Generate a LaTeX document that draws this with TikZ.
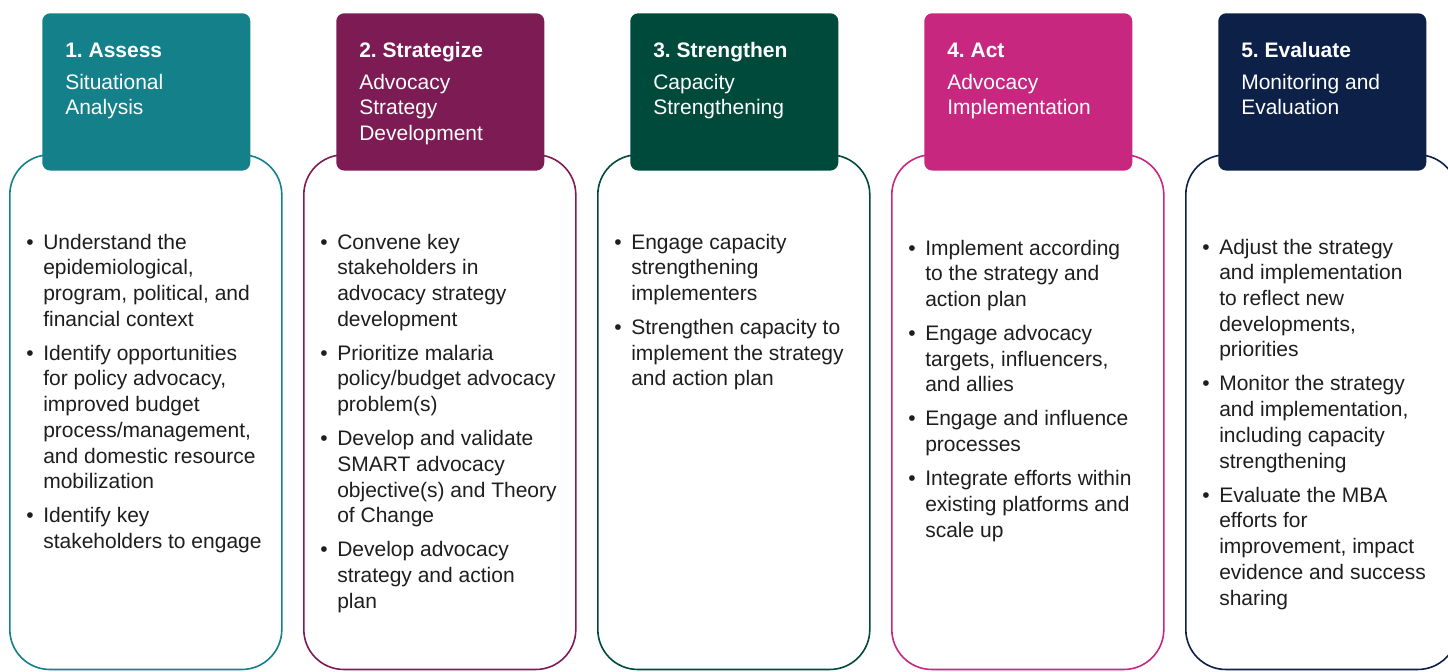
\documentclass[tikz,border=0pt]{standalone}
\usepackage{fontspec}
\setmainfont{Liberation Sans}
\usepackage{tikz}
\frenchspacing

\definecolor{assess}{RGB}{19,128,138}
\definecolor{strategize}{RGB}{125,27,84}
\definecolor{strengthen}{RGB}{0,74,60}
\definecolor{act}{RGB}{199,39,127}
\definecolor{evaluate}{RGB}{12,32,72}
\definecolor{bodytext}{RGB}{30,30,30}

\begin{document}
\begin{tikzpicture}[x=0.75pt,y=0.75pt,yscale=-1,xscale=1,
  panel/.style={draw=#1, line width=1.2pt, fill=white, rounded corners=30pt, minimum width=204pt, minimum height=386pt, anchor=north west, inner sep=0pt},
  header/.style={fill=#1, rounded corners=6pt, minimum width=156pt, minimum height=118pt, anchor=north west, inner sep=0pt},
  headtext/.style={anchor=base west, inner sep=0pt, text=white, font=\fontsize{15.75}{19.3}\selectfont},
  itemtext/.style={anchor=base west, inner sep=0pt, text=bodytext, font=\fontsize{15.75}{19.3}\selectfont}]
\useasboundingbox (0,0) rectangle (1448,671);
\clip (0,0) rectangle (1448,671);

%Shape: Rounded Rect (panels)
\node [panel=assess] (p1) at (9,154) {};
\node [panel=strategize] (p2) at (303,154) {};
\node [panel=strengthen] (p3) at (597,154) {};
\node [panel=act] (p4) at (891,154) {};
\node [panel=evaluate] (p5) at (1185,154) {};

%Shape: Rounded Rect (headers)
\node [header=assess] (h1) at (42,13) {};
\node [header=strategize] (h2) at (336,13) {};
\node [header=strengthen] (h3) at (630,13) {};
\node [header=act] (h4) at (924,13) {};
\node [header=evaluate] (h5) at (1218,13) {};

% Text Node
\node [headtext] (t1) at (65,57) {\begin{tabular}[t]{@{}l@{}}\textbf{1. Assess}\\[4.7pt] Situational\\ Analysis\end{tabular}};
% Text Node
\node [headtext] (t2) at (359,57) {\begin{tabular}[t]{@{}l@{}}\textbf{2. Strategize}\\[4.7pt] Advocacy\\ Strategy\\ Development\end{tabular}};
% Text Node
\node [headtext] (t3) at (653,57) {\begin{tabular}[t]{@{}l@{}}\textbf{3. Strengthen}\\[4.7pt] Capacity\\ Strengthening\end{tabular}};
% Text Node
\node [headtext] (t4) at (947,57) {\begin{tabular}[t]{@{}l@{}}\textbf{4. Act}\\[4.7pt] Advocacy\\ Implementation\end{tabular}};
% Text Node
\node [headtext] (t5) at (1241,57) {\begin{tabular}[t]{@{}l@{}}\textbf{5. Evaluate}\\[4.7pt] Monitoring and\\ Evaluation\end{tabular}};

% Text Node
\node [itemtext] (l1) at (26,249) {\begin{tabular}[t]{@{}p{12.75pt}@{}l@{}}
\textbullet & Understand the\\ & epidemiological,\\ & program, political, and\\ & financial context\\[6.2pt]
\textbullet & Identify opportunities\\ & for policy advocacy,\\ & improved budget\\ & process/management,\\ & and domestic resource\\ & mobilization\\[6.2pt]
\textbullet & Identify key\\ & stakeholders to engage
\end{tabular}};
% Text Node
\node [itemtext] (l2) at (320,249) {\begin{tabular}[t]{@{}p{12.75pt}@{}l@{}}
\textbullet & Convene key\\ & stakeholders in\\ & advocacy strategy\\ & development\\[6.2pt]
\textbullet & Prioritize malaria\\ & policy/budget advocacy\\ & problem(s)\\[6.2pt]
\textbullet & Develop and validate\\ & SMART advocacy\\ & objective(s) and Theory\\ & of Change\\[6.2pt]
\textbullet & Develop advocacy\\ & strategy and action\\ & plan
\end{tabular}};
% Text Node
\node [itemtext] (l3) at (614,249) {\begin{tabular}[t]{@{}p{12.75pt}@{}l@{}}
\textbullet & Engage capacity\\ & strengthening\\ & implementers\\[6.2pt]
\textbullet & Strengthen capacity to\\ & implement the strategy\\ & and action plan
\end{tabular}};
% Text Node
\node [itemtext] (l4) at (908,255) {\begin{tabular}[t]{@{}p{12.75pt}@{}l@{}}
\textbullet & Implement according\\ & to the strategy and\\ & action plan\\[6.2pt]
\textbullet & Engage advocacy\\ & targets, influencers,\\ & and allies\\[6.2pt]
\textbullet & Engage and influence\\ & processes\\[6.2pt]
\textbullet & Integrate efforts within\\ & existing platforms and\\ & scale up
\end{tabular}};
% Text Node
\node [itemtext] (l5) at (1202,254) {\begin{tabular}[t]{@{}p{12.75pt}@{}l@{}}
\textbullet & Adjust the strategy\\ & and implementation\\ & to reflect new\\ & developments,\\ & priorities\\[6.2pt]
\textbullet & Monitor the strategy\\ & and implementation,\\ & including capacity\\ & strengthening\\[6.2pt]
\textbullet & Evaluate the MBA\\ & efforts for\\ & improvement, impact\\ & evidence and success\\ & sharing
\end{tabular}};

\end{tikzpicture}
\end{document}
